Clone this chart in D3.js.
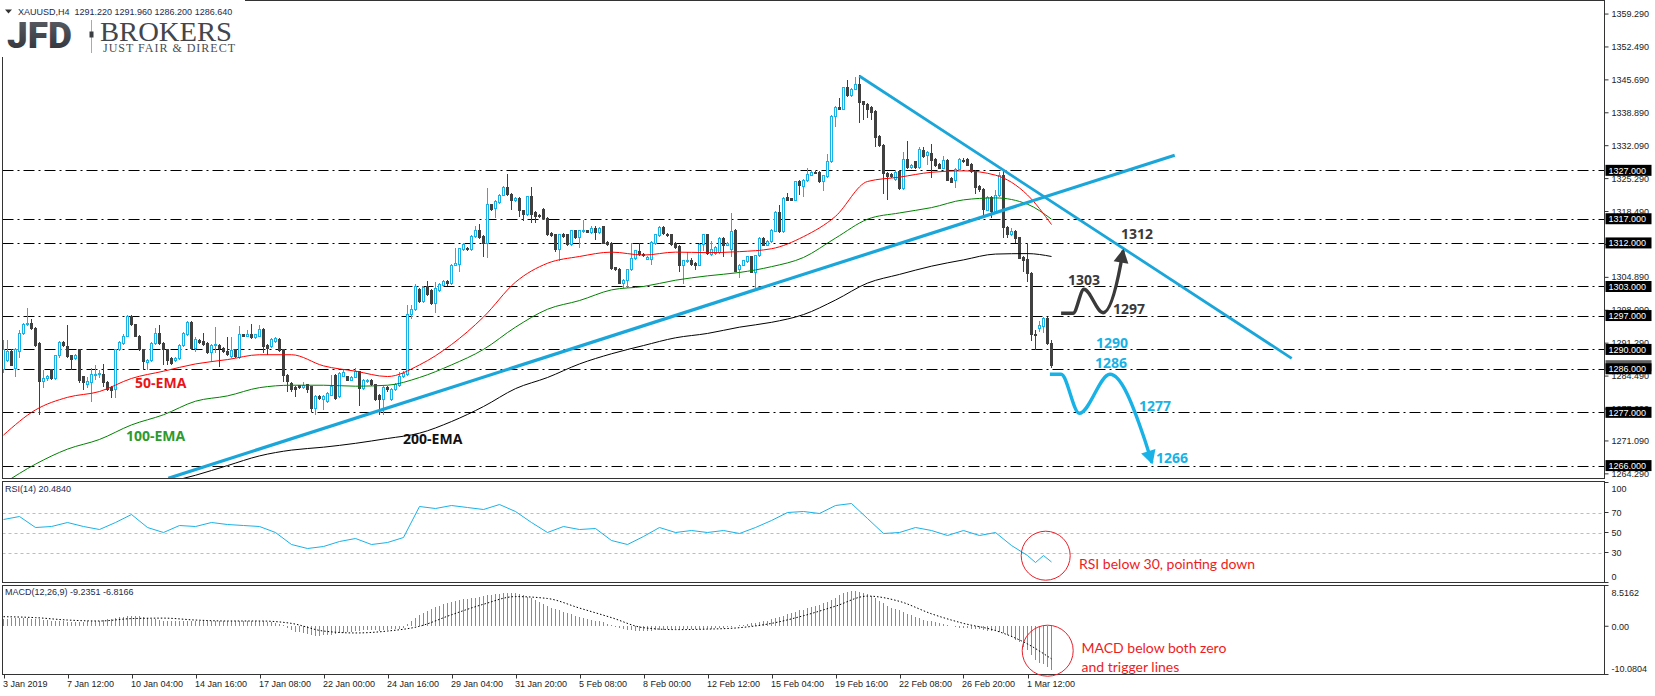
<!DOCTYPE html>
<html><head><meta charset="utf-8">
<script src="https://cdn.jsdelivr.net/npm/d3@7"></script>
<style>body{margin:0;background:#fff;}svg{display:block;}</style>
</head><body><svg id="c" width="1655" height="696"></svg>
<script>
// ---------------- DATA ----------------
const symbolTitle = "XAUUSD,H4  1291.220 1291.960 1286.200 1286.640";
const timeLabels = ["3 Jan 2019","7 Jan 12:00","10 Jan 04:00","14 Jan 16:00","17 Jan 08:00","22 Jan 00:00","24 Jan 16:00","29 Jan 04:00","31 Jan 20:00","5 Feb 08:00","8 Feb 00:00","12 Feb 12:00","15 Feb 04:00","19 Feb 16:00","22 Feb 08:00","26 Feb 20:00","1 Mar 12:00"];
const timeLabelIndex = [0,16,32,48,64,80,96,112,128,144,160,176,192,208,224,240,256];
// H4 candles [open, high, low, close]
const ohlc = [
[1285.75,1291.95,1285.06,1289.88],[1287.81,1291.95,1287.47,1289.54],[1289.54,1290.0,1286.5,1286.78],[1286.09,1290.2,1284.37,1289.88],
[1289.54,1294.0,1288.2,1293.32],[1293.32,1295.4,1293.0,1295.05],[1295.05,1298.49,1294.8,1295.39],[1295.39,1296.2,1294.1,1294.36],
[1294.36,1294.7,1290.6,1290.91],[1291.26,1291.6,1276.45,1283.34],[1283.34,1285.75,1281.96,1284.03],[1283.9,1284.8,1283.5,1284.5],
[1285.75,1286.0,1283.6,1283.9],[1284.03,1288.9,1283.7,1288.64],[1288.64,1291.8,1288.3,1291.40],[1291.40,1291.7,1290.6,1290.91],
[1290.57,1295.05,1288.2,1288.50],[1288.64,1288.9,1285.75,1287.95],[1288.16,1289.0,1287.8,1288.64],[1289.88,1290.0,1283.13,1283.5],
[1284.37,1284.6,1281.62,1283.13],[1282.65,1284.2,1281.96,1283.34],[1283.13,1286.09,1279.2,1284.9],[1284.71,1286.78,1283.7,1284.92],
[1284.85,1285.75,1284.03,1284.95],[1284.92,1286.95,1282.17,1283.13],[1283.13,1283.4,1281.5,1281.75],[1282.17,1282.4,1279.89,1281.48],
[1281.62,1290.1,1279.89,1289.88],[1289.88,1291.7,1289.6,1291.40],[1291.26,1293.1,1291.0,1292.77],[1292.77,1297.2,1292.5,1296.90],
[1296.90,1297.1,1294.8,1295.05],[1295.05,1295.3,1292.5,1292.77],[1292.77,1293.0,1289.6,1289.88],[1289.88,1290.1,1285.75,1287.47],
[1287.3,1288.0,1285.75,1287.81],[1287.81,1291.5,1287.5,1291.26],[1291.26,1294.36,1291.0,1293.32],[1293.32,1295.05,1291.0,1291.26],
[1291.26,1291.5,1286.78,1289.88],[1289.9,1290.1,1286.78,1287.81],[1288.16,1288.4,1286.8,1287.12],[1287.7,1288.4,1287.4,1288.16],
[1288.16,1291.2,1287.9,1290.91],[1290.91,1293.6,1290.6,1293.32],[1292.98,1295.8,1292.7,1295.53],[1295.53,1295.8,1289.9,1290.22],
[1290.22,1292.6,1289.5,1291.95],[1291.8,1292.1,1291.1,1291.4],[1291.6,1293.3,1290.8,1291.1],[1291.26,1291.5,1289.0,1289.33],
[1289.33,1291.2,1287.47,1290.91],[1290.91,1294.7,1289.2,1291.1],[1290.91,1291.1,1286.44,1290.22],[1290.22,1290.5,1289.2,1289.54],
[1289.54,1292.63,1288.6,1288.85],[1288.5,1292.5,1288.2,1289.7],[1289.88,1290.1,1288.2,1288.50],[1288.4,1294.84,1288.1,1292.98],
[1292.98,1293.2,1292.5,1292.77],[1292.77,1294.0,1292.5,1292.98],[1292.98,1295.25,1292.2,1292.5],[1292.5,1293.2,1292.2,1292.98],
[1292.77,1295.05,1292.5,1294.15],[1294.15,1294.4,1289.19,1290.57],[1290.91,1291.1,1288.85,1290.22],[1290.57,1292.3,1290.3,1292.08],
[1291.6,1292.5,1291.4,1292.29],[1292.08,1292.3,1289.5,1289.74],[1289.88,1290.1,1283.34,1284.71],[1284.71,1285.0,1281.27,1283.34],
[1283.0,1283.2,1281.3,1281.62],[1282.17,1282.4,1280.24,1281.75],[1282.5,1282.7,1281.9,1282.17],[1282.17,1283.34,1281.9,1282.5],
[1282.65,1282.9,1280.93,1281.62],[1282.3,1282.5,1277.14,1277.83],[1277.83,1280.5,1276.45,1280.24],[1280.24,1280.5,1279.6,1279.89],
[1279.55,1280.5,1277.48,1280.24],[1279.2,1281.2,1278.9,1280.93],[1280.58,1284.71,1280.3,1282.30],[1284.71,1285.0,1279.6,1279.89],
[1280.24,1285.3,1279.9,1285.06],[1284.5,1285.75,1284.2,1285.2],[1284.37,1284.6,1283.4,1283.68],[1283.68,1284.5,1283.4,1284.24],
[1284.24,1286.09,1284.0,1285.40],[1285.40,1285.6,1278.31,1281.96],[1281.96,1283.9,1281.7,1283.68],[1283.34,1283.9,1283.1,1283.68],
[1283.54,1283.8,1282.4,1282.65],[1282.65,1282.9,1279.3,1279.55],[1280.58,1280.8,1276.45,1279.55],[1279.55,1282.4,1276.45,1282.17],
[1282.17,1282.4,1281.3,1281.62],[1279.55,1282.0,1279.3,1281.75],[1281.62,1283.0,1281.4,1282.65],[1282.5,1285.4,1282.2,1284.37],
[1284.4,1285.6,1284.1,1285.0],[1284.9,1299.18,1284.5,1297.25],[1297.25,1299.18,1296.3,1298.35],[1298.35,1303.5,1298.0,1302.96],
[1302.3,1302.6,1299.5,1299.87],[1299.87,1303.0,1299.6,1302.76],[1302.96,1304.14,1301.1,1301.38],[1302.27,1302.5,1299.2,1299.53],
[1299.53,1304.0,1297.45,1302.62],[1302.07,1303.7,1301.8,1303.31],[1303.2,1304.3,1302.9,1304.0],[1304.0,1304.3,1303.0,1303.65],
[1303.65,1307.7,1303.3,1307.44],[1307.44,1310.89,1307.2,1307.78],[1307.58,1311.0,1306.07,1310.75],[1310.55,1312.0,1310.3,1311.72],
[1310.89,1311.2,1310.3,1310.55],[1310.55,1313.6,1310.3,1313.30],[1313.30,1315.57,1313.0,1314.47],[1314.47,1315.85,1312.8,1313.09],
[1313.30,1313.6,1309.17,1311.92],[1311.92,1323.28,1308.82,1319.84],[1319.84,1320.1,1318.7,1319.01],[1319.15,1320.8,1317.22,1320.53],
[1320.4,1322.2,1320.1,1321.9],[1321.9,1323.7,1321.6,1323.42],[1323.42,1326.24,1321.6,1321.91],[1322.04,1322.3,1318.8,1320.67],
[1320.67,1321.5,1320.4,1321.22],[1321.22,1321.5,1317.43,1318.60],[1318.60,1318.9,1316.53,1317.91],[1317.91,1321.8,1317.6,1321.56],
[1321.56,1323.63,1316.05,1317.91],[1318.32,1318.6,1316.05,1317.43],[1317.6,1317.9,1317.2,1317.43],[1319.01,1319.3,1316.8,1317.09],
[1317.09,1317.3,1313.4,1313.64],[1313.98,1314.2,1313.2,1313.5],[1313.64,1313.9,1310.2,1310.55],[1310.55,1313.9,1308.27,1313.64],
[1313.84,1314.1,1313.0,1313.30],[1313.64,1313.9,1311.3,1311.58],[1311.58,1314.7,1311.3,1314.47],[1314.47,1314.7,1312.8,1313.09],
[1313.09,1314.7,1310.89,1314.47],[1314.33,1316.74,1314.1,1314.47],[1314.47,1314.7,1314.0,1314.2],[1314.2,1315.57,1313.9,1314.88],
[1314.88,1315.57,1312.61,1314.2],[1314.2,1315.36,1313.9,1314.88],[1315.36,1315.6,1311.7,1311.92],[1312.13,1312.4,1311.4,1311.72],
[1311.92,1312.1,1306.41,1306.75],[1306.9,1307.1,1306.1,1306.41],[1306.61,1306.8,1303.45,1303.65],[1303.65,1304.6,1302.76,1304.34],
[1304.14,1306.6,1302.76,1306.41],[1306.41,1311.92,1306.1,1308.82],[1308.82,1310.6,1308.5,1310.34],[1310.2,1311.92,1309.2,1309.51],
[1309.65,1309.9,1309.1,1309.38],[1308.68,1309.2,1308.4,1308.96],[1308.68,1312.4,1307.44,1312.13],[1311.92,1313.9,1311.6,1313.64],
[1313.5,1315.57,1313.3,1315.16],[1315.16,1315.4,1313.7,1313.98],[1313.78,1314.0,1313.2,1313.5],[1313.64,1313.9,1311.4,1311.72],
[1311.92,1312.2,1310.7,1311.03],[1311.23,1311.5,1306.07,1307.44],[1307.44,1308.5,1303.45,1308.27],[1308.13,1310.2,1307.9,1308.27],
[1308.47,1308.82,1307.3,1307.58],[1307.78,1308.0,1306.41,1307.44],[1307.44,1312.0,1307.2,1311.72],[1311.58,1313.8,1310.34,1313.64],
[1313.64,1313.9,1309.6,1309.86],[1309.65,1312.4,1309.4,1310.55],[1309.85,1311.3,1309.6,1311.02],[1310.05,1313.3,1309.8,1312.95],
[1312.95,1313.2,1309.16,1311.57],[1311.57,1312.1,1311.3,1311.92],[1310.74,1318.11,1309.16,1314.46],[1314.67,1314.9,1306.0,1306.20],
[1306.61,1307.7,1304.82,1307.44],[1307.44,1308.5,1307.2,1308.27],[1308.13,1309.4,1307.9,1309.16],[1309.16,1309.4,1305.7,1305.92],
[1305.92,1309.6,1302.76,1309.36],[1309.36,1313.2,1309.1,1312.95],[1312.95,1313.2,1311.3,1311.57],[1311.57,1312.6,1311.3,1312.40],
[1312.26,1314.9,1312.0,1314.67],[1314.46,1318.6,1314.2,1318.32],[1318.32,1319.84,1314.1,1314.33],[1314.33,1321.5,1314.1,1321.21],
[1321.35,1322.24,1320.6,1320.87],[1321.1,1321.35,1320.6,1320.87],[1320.87,1324.9,1320.6,1324.66],[1324.66,1325.0,1321.9,1323.97],
[1323.6,1325.3,1321.5,1325.0],[1324.8,1327.41,1324.5,1326.17],[1326.03,1326.8,1325.8,1326.58],[1326.6,1326.8,1326.2,1326.4],
[1326.58,1326.8,1324.4,1324.66],[1324.66,1326.1,1322.73,1325.89],[1325.69,1330.3,1325.4,1328.79],[1328.79,1338.4,1328.5,1338.08],
[1338.08,1340.2,1336.02,1339.94],[1339.94,1341.87,1339.4,1339.67],[1339.67,1344.3,1339.4,1344.08],[1344.08,1345.66,1342.2,1342.42],
[1342.42,1344.0,1342.2,1343.80],[1343.80,1346.35,1343.5,1344.77],[1344.77,1346.69,1336.71,1341.05],[1341.18,1341.4,1337.4,1340.63],
[1340.63,1340.9,1337.74,1339.67],[1339.94,1340.2,1337.4,1338.98],[1339.12,1339.4,1331.89,1333.75],[1333.95,1334.2,1331.9,1332.09],
[1332.23,1332.5,1322.04,1326.38],[1326.38,1326.6,1320.87,1325.69],[1326.2,1326.5,1325.4,1325.69],[1325.2,1326.8,1324.9,1326.58],
[1326.72,1327.0,1323.0,1323.28],[1323.28,1330.71,1323.0,1329.34],[1329.34,1333.06,1327.3,1327.55],[1327.55,1328.4,1327.3,1328.10],
[1328.79,1329.0,1327.3,1327.55],[1327.55,1331.89,1327.3,1331.40],[1331.19,1331.89,1329.6,1329.82],[1330.03,1331.0,1328.10,1330.71],
[1330.51,1332.37,1325.34,1329.13],[1329.34,1329.6,1327.7,1327.96],[1328.24,1328.5,1327.2,1327.41],[1327.41,1330.03,1327.2,1329.13],
[1329.13,1329.4,1324.79,1325.00],[1325.34,1325.6,1324.3,1324.52],[1324.99,1327.5,1323.28,1327.27],[1327.27,1329.6,1327.0,1329.34],
[1329.13,1329.48,1328.5,1328.79],[1329.34,1329.61,1327.8,1328.10],[1328.24,1328.5,1326.5,1326.72],[1326.86,1327.1,1322.04,1323.42],
[1323.63,1324.0,1322.5,1323.0],[1323.0,1323.3,1317.43,1319.01],[1318.80,1321.6,1318.5,1321.35],[1321.35,1321.6,1317.08,1318.46],
[1318.46,1322.93,1318.2,1321.90],[1321.76,1326.58,1321.5,1326.03],[1326.03,1327.27,1312.95,1315.15],[1315.15,1315.4,1312.95,1313.64],
[1313.64,1315.01,1313.5,1314.33],[1314.33,1314.6,1311.92,1312.95],[1313.09,1313.3,1308.6,1308.82],[1308.95,1309.2,1306.06,1308.27],
[1308.68,1311.92,1304.0,1305.72],[1305.72,1306.0,1291.74,1292.98],[1293.0,1294.0,1289.88,1292.8],[1294.35,1295.9,1293.7,1295.04],
[1294.8,1296.6,1293.3,1296.42],[1296.4,1296.6,1290.9,1291.22],[1291.22,1291.96,1286.20,1286.64]
];
// moving averages read every 8 bars (plus last bar)
const emaIndex = [0,8,16,24,32,40,48,56,64,72,80,88,96,104,112,120,128,136,144,152,160,168,176,184,192,200,208,216,224,232,240,248,256,262];
const ema50  = [1272.3,1277.5,1280.1,1281.3,1284.0,1285.5,1287.0,1287.9,1288.9,1288.9,1286.6,1285.5,1284.4,1286.8,1291.0,1296.7,1303.9,1307.8,1309.2,1310.1,1309.5,1310.1,1310.0,1310.2,1310.8,1313.3,1317.5,1324.7,1325.6,1326.6,1326.9,1326.0,1321.9,1315.8];
const ema100 = [1262.3,1266.3,1269.4,1271.4,1274.4,1276.5,1279.3,1280.4,1282.1,1282.6,1282.6,1282.4,1282.6,1284.2,1286.8,1290.0,1294.6,1298.3,1300.1,1302.3,1303.0,1304.3,1305.2,1305.9,1307.1,1309.0,1313.0,1316.9,1318.2,1319.3,1320.9,1321.3,1320.0,1316.9];
const ema200 = [1252.8,1254.7,1256.6,1258.5,1260.4,1262.3,1264.0,1266.0,1268.0,1269.2,1269.8,1270.6,1271.6,1272.7,1275.1,1278.2,1281.9,1284.2,1287.0,1289.1,1290.8,1292.4,1293.3,1294.6,1295.6,1297.2,1300.2,1303.7,1305.5,1307.2,1308.5,1309.7,1309.8,1309.2];
// RSI(14)
const rsiIndex = [0,4,8,12,16,20,24,28,32,36,40,44,48,52,56,60,64,68,72,76,80,84,88,92,96,100,104,108,112,116,120,124,128,132,136,140,144,148,152,156,160,164,168,172,176,180,184,188,192,196,200,204,208,212,216,220,224,228,232,236,240,244,248,252,256,258,260,262];
const rsiValue = [63,66,55,56,60,56,53,60,68,55,50,57,56,60,58,57,56,50,38,34,36,41,44,38,40,45,76,74,77,75,73,78,71,60,50,56,53,54,42,38,46,55,50,52,50,52,49,55,62,70,71,69,77,79,64,49,50,55,52,47,52,47,50,37,27,20,27,20.48];
// MACD(12,26,9) histogram (one per bar) and signal line
const macdHist = [
1.5,1.6,1.7,1.8,1.8,1.8,1.7,1.6,1.5,1.5, 1.4,1.3,1.2,1.1,1.0,1.0,0.9,0.9,0.9,0.9,
0.9,1.0,1.0,1.1,1.2,1.3,1.5,1.6,1.8,1.9, 2.0,2.1,2.2,2.2,2.1,2.0,1.8,1.6,1.5,1.3,
1.2,1.1,1.0,1.0,1.0,1.0,1.0,1.0,1.0,1.0, 1.0,1.0,1.0,1.1,1.1,1.1,1.2,1.2,1.2,1.2,
1.2,1.2,1.2,1.1,1.1,1.0,0.9,0.8,0.6,0.4, 0.2,-0.3,-0.8,-1.1,-1.3,-1.5,-1.7,-1.8,-2.0,-2.0,
-1.9,-1.9,-1.8,-1.6,-1.5,-1.4,-1.2,-1.1,-1.0,-0.9, -0.8,-0.8,-0.8,-0.8,-0.9,-0.8,-0.7,-0.6,-0.5,-0.5,
-0.4,0.5,1.2,1.8,2.3,2.8,3.2,3.6,4.0,4.3, 4.6,4.8,5.0,5.2,5.4,5.6,5.7,5.8,6.0,6.1,
6.3,6.5,6.6,6.7,6.8,6.9,7.0,7.0,6.9,6.7, 6.5,6.2,5.8,5.5,5.0,4.6,4.2,3.9,3.6,3.3,
3.0,2.8,2.5,2.2,2.0,1.8,1.6,1.4,1.2,1.0, 0.8,0.5,0.2,-0.2,-0.4,-0.6,-0.7,-0.8,-0.9,-1.0,
-1.0,-1.0,-0.9,-0.8,-0.7,-0.7,-0.6,-0.6,-0.5,-0.5, -0.5,-0.6,-0.6,-0.6,-0.6,-0.6,-0.5,-0.5,-0.4,-0.3,
-0.3,-0.2,-0.1,0.0,0.2,0.3,0.5,0.6,0.7,0.8, 1.0,1.2,1.5,1.8,2.0,2.2,2.5,2.8,3.0,3.3,
3.5,3.8,4.0,4.3,4.5,4.8,5.0,5.5,6.0,6.6, 7.0,7.2,7.3,7.3,7.2,7.0,6.7,6.3,5.8,5.3,
4.8,4.3,3.9,3.6,3.3,3.0,2.6,2.3,2.0,1.7, 1.4,1.2,1.0,0.8,0.6,0.4,0.2,0.0,-0.2,-0.3,
-0.3,-0.4,-0.5,-0.5,-0.6,-0.8,-0.9,-1.0,-1.0,-1.2, -1.49,-1.84,-2.19,-2.89,-3.24,-4.28,-4.98,-6.02,-7.07,-7.63,
-7.91,-8.47,-9.24
];
const signalIndex = [0,8,16,24,32,40,48,56,64,72,80,88,96,104,112,120,128,136,144,152,160,168,176,184,192,200,208,216,224,232,240,248,256,262];
const signalValue = [2.0,1.8,1.3,1.1,1.6,1.7,1.3,1.1,1.1,0.6,-1.0,-1.4,-1.0,0.0,2.4,4.6,6.2,5.8,3.8,1.8,-0.3,-0.7,-0.6,-0.3,0.6,2.2,4.2,6.3,5.2,2.6,0.6,-0.9,-3.7,-6.82];
// price axis
const priceTicks = [1359.29,1352.49,1345.69,1338.89,1332.09,1325.29,1318.49,1311.69,1304.89,1298.09,1291.29,1284.49,1277.69,1271.09,1264.29];
const levels = [1327,1317,1312,1303,1297,1290,1286,1277,1266];
const lastPrice = 1286.64;
const rsiTicks = [100,70,50,30,0];
const rsiLevels = [70,50,30];
const macdTicks = [[8.5162,"8.5162"],[0,"0.00"],[-10.0804,"-10.0804"]];
// drawn objects in (bar index, price)
const upTrend = [[41.2,1263.37],[292.8,1330.13]];
const downTrend = [[213.95,1346.49],[322.05,1288.16]];
const bullWave = [[264.4,1297.46],[267.4,1297.46],[270.1,1302.42],[274.9,1297.59],[279.3,1307.6],[279.9,1310.4]];
const bearWave = [[261.6,1284.86],[264.4,1284.86],[268.95,1276.8],[276.6,1284.86],[285.2,1271.6],[287.1,1266.6]];
const priceNotes = [["1303",266.1,1303.3,"dark"],["1297",277.4,1297.3,"dark"],["1312",279.4,1312.8,"dark"],
  ["1290",273.1,1290.35,"blue"],["1286",272.9,1286.2,"blue"],["1277",283.9,1277.3,"blue"],["1266",288.1,1266.5,"blue"]];
const emaNotes = [["50-EMA",32.9,1282.1,"#e8151b"],["100-EMA",30.6,1271.1,"#2d9a2d"],["200-EMA",99.9,1270.5,"#111"]];

// ---------------- DRAW ----------------
const CY = "#19b2e6", DK = "#404040", TL = "#1ba6da";
const svg = d3.select("#c");
const L = 2.5, R = 1604.5;
const P = {main:[0.5,478.5], rsi:[481.5,582.5], macd:[585.5,674.5]};
const x = d3.scaleLinear().domain([0,262]).range([3.5,1051.5]);
const y = d3.scaleLinear().domain([1263.33,1362.09]).range([P.main[1],P.main[0]]);
const yr = d3.scaleLinear().domain([0,100]).range([P.rsi[1],P.rsi[0]+1]);
const ym = d3.scaleLinear().domain([-10.0804,8.5162]).range([P.macd[1],P.macd[0]]);
const axisFont = "'Liberation Sans', Arial, sans-serif";

svg.append("rect").attr("width",1655).attr("height",696).attr("fill","#fff");
const defs = svg.append("defs");
Object.entries(P).forEach(([k,[t,b]])=>{
  defs.append("clipPath").attr("id","clip-"+k).append("rect").attr("x",L).attr("y",t).attr("width",R-L).attr("height",b-t);
});
const gMain = svg.append("g").attr("clip-path","url(#clip-main)");
const gRsi = svg.append("g").attr("clip-path","url(#clip-rsi)");
const gMacd = svg.append("g").attr("clip-path","url(#clip-macd)");

// levels
levels.forEach(v=>{
  gMain.append("line").attr("x1",L).attr("x2",R).attr("y1",Math.round(y(v))+0.5).attr("y2",Math.round(y(v))+0.5)
    .attr("stroke","#000").attr("stroke-width",1).attr("stroke-dasharray","11,4,2,4");
});

// candles
const gc = gMain.append("g").attr("shape-rendering","crispEdges");
ohlc.forEach((d,i)=>{
  const [o,h0,l0,c] = d; const h=Math.max(h0,o,c), l=Math.min(l0,o,c);
  const cx = x(i), up = c>=o, col = up?CY:DK;
  const top = y(Math.max(o,c)), bot = y(Math.min(o,c));
  gc.append("line").attr("x1",cx).attr("x2",cx).attr("y1",y(h)).attr("y2",top).attr("stroke",col);
  gc.append("line").attr("x1",cx).attr("x2",cx).attr("y1",bot).attr("y2",y(l)).attr("stroke",col);
  if(up){
    gc.append("rect").attr("x",cx-1).attr("y",top).attr("width",2).attr("height",Math.max(bot-top,0.01))
      .attr("fill","#fff").attr("stroke",CY).attr("stroke-width",1);
  } else {
    gc.append("rect").attr("x",cx-1.5).attr("y",top-0.5).attr("width",3).attr("height",Math.max(bot-top,0)+1).attr("fill",DK);
  }
});

// EMAs
const emaLine = arr => d3.line().x((d,k)=>x(emaIndex[k])).y(d=>y(d)).curve(d3.curveMonotoneX)(arr);
[[ema200,"#000"],[ema100,"#008000"],[ema50,"#ff0000"]].forEach(([a,c])=>{
  gMain.append("path").attr("d",emaLine(a)).attr("fill","none").attr("stroke",c).attr("stroke-width",1);
});

// trend lines
[[upTrend,3.2],[downTrend,2.8]].forEach(([t,w])=>{
  gMain.append("line").attr("x1",x(t[0][0])).attr("y1",y(t[0][1])).attr("x2",x(t[1][0])).attr("y2",y(t[1][1]))
    .attr("stroke",TL).attr("stroke-width",w);
});

// scenario waves
function wave(pts,color){
  const line = d3.line().x(d=>x(d[0])).y(d=>y(d[1])).curve(d3.curveMonotoneX);
  const n = pts.length;
  gMain.append("path").attr("d",line(pts.slice(0,n))).attr("fill","none").attr("stroke",color).attr("stroke-width",3.4);
  const ax=x(pts[n-2][0]), ay=y(pts[n-2][1]), bx=x(pts[n-1][0]), by=y(pts[n-1][1]);
  const ang = Math.atan2(by-ay,bx-ax), len=14, hw=7.5;
  const px=bx+2*Math.cos(ang), py=by+2*Math.sin(ang);
  const bxp=px-len*Math.cos(ang), byp=py-len*Math.sin(ang);
  const pts3=[[px,py],[bxp+hw*Math.sin(ang),byp-hw*Math.cos(ang)],[bxp-hw*Math.sin(ang),byp+hw*Math.cos(ang)]];
  gMain.append("path").attr("d","M"+pts3.map(p=>p.join(",")).join("L")+"Z").attr("fill",color);
}
wave(bullWave,"#3a3a3a");
wave(bearWave,"#19b2e6");

// labels in main
const boldFont = "'Open Sans', 'DejaVu Sans', sans-serif";
priceNotes.forEach(([t,i,p,k])=>{
  gMain.append("text").attr("x",x(i)).attr("y",y(p)).text(t).attr("font-family",boldFont).attr("font-weight",700)
    .attr("font-size",14).attr("fill",k==="dark"?"#3a3a3a":"#19b2e6");
});
emaNotes.forEach(([t,i,p,c])=>{
  gMain.append("text").attr("x",x(i)).attr("y",y(p)).text(t).attr("font-family",boldFont).attr("font-weight",700)
    .attr("font-size",14).attr("fill",c);
});

// RSI
rsiLevels.forEach(v=>{
  gRsi.append("line").attr("x1",L).attr("x2",R).attr("y1",Math.round(yr(v))+0.5).attr("y2",Math.round(yr(v))+0.5)
    .attr("stroke","#bdbdbd").attr("stroke-dasharray","3,3");
});
gRsi.append("path").attr("d",d3.line().x((d,k)=>x(rsiIndex[k])).y(d=>yr(d))(rsiValue))
  .attr("fill","none").attr("stroke",CY).attr("stroke-width",1);

// MACD
const gh = gMacd.append("g").attr("shape-rendering","crispEdges");
macdHist.forEach((v,i)=>{
  gh.append("line").attr("x1",x(i)).attr("x2",x(i)).attr("y1",ym(0)).attr("y2",ym(v)).attr("stroke",CY).attr("stroke-width",1);
});
gMacd.append("path").attr("d",d3.line().x((d,k)=>x(signalIndex[k])).y(d=>ym(d)).curve(d3.curveMonotoneX)(signalValue))
  .attr("fill","none").attr("stroke","#000").attr("stroke-width",1).attr("stroke-dasharray","1.5,2");

// frames
Object.values(P).forEach(([t,b])=>{
  svg.append("rect").attr("x",L).attr("y",t).attr("width",R-L).attr("height",b-t).attr("fill","none").attr("stroke","#333");
});

// price axis
priceTicks.forEach(v=>{
  const yy = y(v);
  svg.append("line").attr("x1",R).attr("x2",R+4).attr("y1",yy).attr("y2",yy).attr("stroke","#333");
  svg.append("text").attr("x",R+7).attr("y",yy).attr("dy","0.35em").text(v.toFixed(3))
    .attr("font-family",axisFont).attr("font-size",9).attr("fill","#222");
});
svg.append("rect").attr("x",R+1).attr("y",y(lastPrice)-5.5).attr("width",46).attr("height",11).attr("fill","#606060");
levels.forEach(v=>{
  const yy = y(v);
  svg.append("rect").attr("x",R+1).attr("y",yy-5.5).attr("width",46).attr("height",11).attr("fill","#000");
  svg.append("text").attr("x",R+4).attr("y",yy).attr("dy","0.36em").text(v.toFixed(3))
    .attr("font-family",axisFont).attr("font-size",9).attr("fill","#fff");
});
// RSI axis
rsiTicks.forEach(v=>{
  const yy = yr(v);
  svg.append("line").attr("x1",R).attr("x2",R+4).attr("y1",yy).attr("y2",yy).attr("stroke","#333");
  const ty = Math.min(Math.max(yy,P.rsi[0]+7),P.rsi[1]-6);
  svg.append("text").attr("x",R+7).attr("y",ty).attr("dy","0.35em").text(v)
    .attr("font-family",axisFont).attr("font-size",9).attr("fill","#222");
});
// MACD axis
macdTicks.forEach(([v,t])=>{
  const yy = ym(v);
  svg.append("line").attr("x1",R).attr("x2",R+4).attr("y1",yy).attr("y2",yy).attr("stroke","#333");
  const ty = Math.min(Math.max(yy,P.macd[0]+6.5),P.macd[1]-6.5);
  svg.append("text").attr("x",R+7).attr("y",ty+1).attr("dy","0.35em").text(t)
    .attr("font-family",axisFont).attr("font-size",9).attr("fill","#222");
});
// time axis
timeLabels.forEach((t,k)=>{
  const xx = Math.round(x(timeLabelIndex[k]))+0.5;
  svg.append("line").attr("x1",xx).attr("x2",xx).attr("y1",P.macd[1]).attr("y2",P.macd[1]+4).attr("stroke","#333");
  svg.append("text").attr("x",xx-1.5).attr("y",686.5).text(t)
    .attr("font-family",axisFont).attr("font-size",9).attr("fill","#222");
});

// panel titles
svg.append("text").attr("x",5).attr("y",492).text("RSI(14) 20.4840").attr("font-family",axisFont).attr("font-size",9).attr("fill","#1d2a4d");
svg.append("text").attr("x",5).attr("y",595).text("MACD(12,26,9) -9.2351 -6.8166").attr("font-family",axisFont).attr("font-size",9).attr("fill","#1d2a4d");

// red notes
const noteFont = "Lato, 'Open Sans', sans-serif";
svg.append("circle").attr("cx",x(260.55)).attr("cy",yr(26.8)).attr("r",24.5).attr("fill","none").attr("stroke","#e8202a");
svg.append("circle").attr("cx",x(261.05)).attr("cy",ym(-5.11)).attr("r",25.5).attr("fill","none").attr("stroke","#e8202a");
svg.append("text").attr("x",1079).attr("y",569).text("RSI below 30, pointing down").attr("font-family",noteFont).attr("font-size",14).attr("fill","#ed1c24");
svg.append("text").attr("x",1081.5).attr("y",652.5).text("MACD below both zero").attr("font-family",noteFont).attr("font-size",14).attr("fill","#ed1c24");
svg.append("text").attr("x",1081.5).attr("y",671.5).text("and trigger lines").attr("font-family",noteFont).attr("font-size",14).attr("fill","#ed1c24");

// header + logo
svg.append("rect").attr("x",0).attr("y",0).attr("width",245).attr("height",57).attr("fill","#fff");
svg.append("path").attr("d","M5,9.5L12,9.5L8.5,13.5Z").attr("fill","#333");
svg.append("text").attr("x",18).attr("y",14.5).text(symbolTitle).attr("font-family",axisFont).attr("font-size",9).attr("fill","#1d2a4d").attr("xml:space","preserve").style("white-space","pre");
const grad = defs.append("linearGradient").attr("id","jfd").attr("x1",0).attr("y1",0).attr("x2",0).attr("y2",1);
grad.append("stop").attr("offset","0").attr("stop-color","#5d6168");
grad.append("stop").attr("offset","1").attr("stop-color","#2b2e33");
svg.append("text").attr("x",7).attr("y",48).text("JFD").attr("font-family","Roboto, 'DejaVu Sans', sans-serif").attr("font-weight",900)
  .attr("font-size",36).attr("fill","url(#jfd)").attr("textLength",65).attr("lengthAdjust","spacingAndGlyphs");
svg.append("line").attr("x1",91.5).attr("x2",91.5).attr("y1",20).attr("y2",53).attr("stroke","#aaa");
svg.append("rect").attr("x",89.5).attr("y",31.5).attr("width",4).attr("height",6).attr("fill","#3a3d42");
svg.append("text").attr("x",100).attr("y",40.5).text("BROKERS").attr("font-family","'Liberation Serif','DejaVu Serif',serif")
  .attr("font-size",27).attr("fill","#43464c").attr("textLength",132).attr("lengthAdjust","spacingAndGlyphs");
svg.append("text").attr("x",103).attr("y",52).text("JUST FAIR & DIRECT").attr("font-family","'Liberation Serif','DejaVu Serif',serif")
  .attr("font-size",12).attr("fill","#4a4d53").attr("textLength",132).attr("lengthAdjust","spacing");
</script></body></html>
